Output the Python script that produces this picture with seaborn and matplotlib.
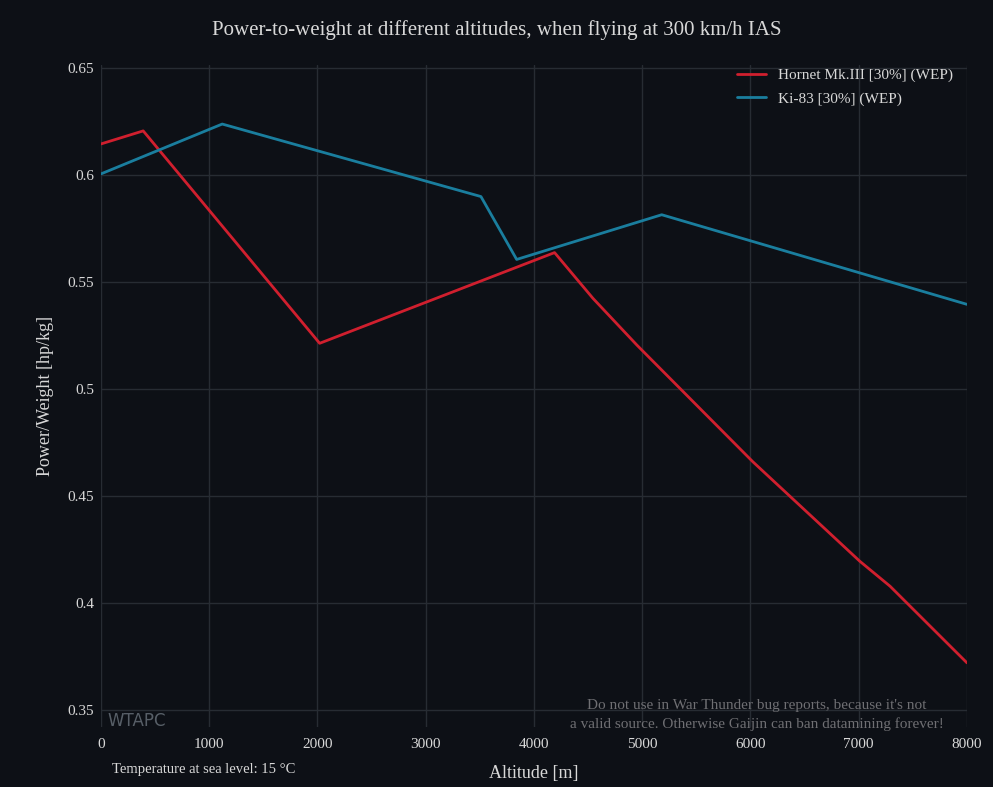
import matplotlib
matplotlib.use("Agg")
import matplotlib.pyplot as plt
import seaborn as sns
import pandas as pd

# Values
hornet_alt = [0, 390, 2020, 4190, 4545, 4950, 6020, 7010, 7290, 8000]
hornet_pw = [0.6146, 0.6207, 0.5214, 0.5638, 0.5424, 0.5206, 0.4661, 0.4195, 0.4078, 0.3720]
ki83_alt = [0, 1120, 3510, 3840, 5180, 8000]
ki83_pw = [0.6006, 0.6239, 0.5900, 0.5606, 0.5815, 0.5396]

series_names = ["Hornet Mk.III [30%] (WEP)", "Ki-83 [30%] (WEP)"]
series_colors = ["#d01f2e", "#1a7e9e"]
x_ticks = [0, 1000, 2000, 3000, 4000, 5000, 6000, 7000, 8000]
y_ticks = [0.35, 0.4, 0.45, 0.5, 0.55, 0.6, 0.65]
y_tick_labels = ["0.35", "0.4", "0.45", "0.5", "0.55", "0.6", "0.65"]

bg = "#0d1016"
fg = "#d8d8d8"
grid = "#272c33"

df = pd.concat([
    pd.DataFrame({"alt": hornet_alt, "pw": hornet_pw, "plane": series_names[0]}),
    pd.DataFrame({"alt": ki83_alt, "pw": ki83_pw, "plane": series_names[1]}),
])

sns.set_theme(style="dark")
plt.rcParams["font.family"] = ["Liberation Serif", "DejaVu Serif"]

fig = plt.figure(figsize=(9.93, 7.87), dpi=100, facecolor=bg)
ax = fig.add_axes([0.1017, 0.0762, 0.8721, 0.8412])
ax.set_facecolor(bg)

sns.lineplot(data=df, x="alt", y="pw", hue="plane", palette=series_colors,
             sort=False, estimator=None, linewidth=2, ax=ax)

ax.set_xlim(0, 8000)
ax.set_ylim(0.342, 0.6515)
ax.set_xticks(x_ticks)
ax.set_yticks(y_ticks)
ax.set_yticklabels(y_tick_labels)
ax.grid(True, color=grid, linewidth=1)
ax.tick_params(colors=fg, labelsize=11, length=0)
ax.tick_params(axis="y", pad=5)
ax.tick_params(axis="x", pad=8)
for s in ax.spines.values():
    s.set_visible(False)

ax.set_xlabel("Altitude [m]", color=fg, fontsize=13, labelpad=10)
ax.set_ylabel("Power/Weight [hp/kg]", color=fg, fontsize=13, labelpad=10)

leg = ax.legend(loc="upper right", frameon=False, fontsize=11, handlelength=1.9,
                labelspacing=0.65, bbox_to_anchor=(1.0, 1.016))
for t in leg.get_texts():
    t.set_color(fg)

fig.suptitle("Power-to-weight at different altitudes, when flying at 300 km/h IAS",
             color=fg, fontsize=15, y=0.975)

fig.text(0.205, 0.018, "Temperature at sea level: 15 °C", color=fg, fontsize=10.5, ha="center")
fig.text(0.762, 0.075, "Do not use in War Thunder bug reports, because it's not\n"
         "a valid source. Otherwise Gaijin can ban datamining forever!",
         color="#6f6f73", fontsize=11, ha="center", linespacing=1.5)
fig.text(0.108, 0.078, "WTAPC", color="#6a737c", fontsize=12, family="DejaVu Sans",
         alpha=0.8)

fig.savefig("out.png", dpi=100, facecolor=bg)
